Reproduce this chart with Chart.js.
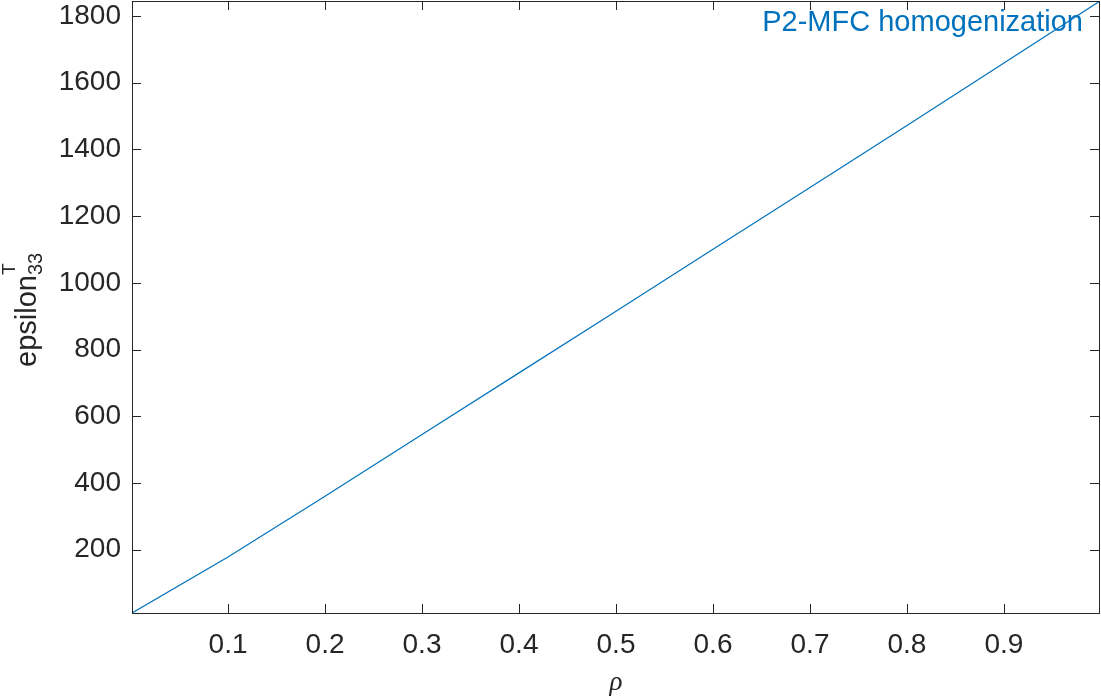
<!DOCTYPE html>
<html>
<head>
<meta charset="utf-8">
<script src="https://cdn.jsdelivr.net/npm/chart.js@4.4.1/dist/chart.umd.min.js"></script>
<style>
    html, body { margin: 0; padding: 0; background: #ffffff; }
    #grafico { display: block; }
</style>
</head>
<body>
<canvas id="grafico" width="1101" height="697"></canvas>
<script>
/* ================================
      DADOS
================================ */
const rho = [0.001, 0.1, 0.2, 0.3, 0.4, 0.5, 0.6, 0.7, 0.8, 0.9, 0.999];
const epsilon33 = [10, 178, 360, 545, 730, 915, 1101, 1286, 1472, 1659, 1845];
const xTicks = [0.1, 0.2, 0.3, 0.4, 0.5, 0.6, 0.7, 0.8, 0.9];
const yTicks = [200, 400, 600, 800, 1000, 1200, 1400, 1600, 1800];
const legendaTexto = "P2-MFC homogenization";
const tituloX = "\u03C1";
const tituloY = "epsilon";
const tituloYSup = "T";
const tituloYSub = "33";

const corEixo = "#262626";
const corLinha = "#0072BD";

/* ================================
      PLUGIN — CAIXA, TICKS, TEXTOS
================================ */
const estiloMatlab = {
    id: "estiloMatlab",
    afterDraw(chart) {
        const ctx = chart.ctx;
        const area = chart.chartArea;
        const sx = chart.scales.x;
        const sy = chart.scales.y;
        const tam = 9;

        ctx.save();
        ctx.strokeStyle = corEixo;
        ctx.lineWidth = 1;

        // caixa
        ctx.strokeRect(Math.round(area.left) + 0.5, Math.round(area.top) + 0.5,
            Math.round(area.right - area.left) - 1, Math.round(area.bottom - area.top));

        // ticks para dentro
        ctx.beginPath();
        xTicks.forEach(v => {
            const px = Math.round(sx.getPixelForValue(v)) + 0.5;
            ctx.moveTo(px, area.bottom);
            ctx.lineTo(px, area.bottom - tam);
            ctx.moveTo(px, area.top);
            ctx.lineTo(px, area.top + tam);
        });
        yTicks.forEach(v => {
            const py = Math.round(sy.getPixelForValue(v)) + 0.5;
            ctx.moveTo(area.left, py);
            ctx.lineTo(area.left + tam, py);
            ctx.moveTo(area.right - 1, py);
            ctx.lineTo(area.right - 1 - tam, py);
        });
        ctx.stroke();

        // legenda
        ctx.fillStyle = corLinha;
        ctx.font = '29px "Liberation Sans", Arial, sans-serif';
        ctx.textAlign = "right";
        ctx.textBaseline = "alphabetic";
        ctx.fillText(legendaTexto, 1083, 31);

        // titulo x
        ctx.fillStyle = corEixo;
        ctx.font = 'italic 27px "Liberation Serif", "DejaVu Serif", serif';
        ctx.textAlign = "center";
        ctx.fillText(tituloX, (area.left + area.right) / 2, 690);

        // titulo y (rotacionado, com sobrescrito e subscrito)
        ctx.translate(36, 367);
        ctx.rotate(-Math.PI / 2);
        ctx.textAlign = "left";
        ctx.font = '29px "Liberation Sans", Arial, sans-serif';
        ctx.fillText(tituloY, 0, 0);
        const larg = ctx.measureText(tituloY).width;
        ctx.font = '19px "Liberation Sans", Arial, sans-serif';
        ctx.fillText(tituloYSup, larg, -21);
        ctx.font = '20px "Liberation Sans", Arial, sans-serif';
        ctx.fillText(tituloYSub, larg, 6);

        ctx.restore();
    }
};

/* ================================
      GRÁFICO
================================ */
const ctx = document.getElementById("grafico");

new Chart(ctx, {
    type: "scatter",
    data: {
        datasets: [{
            label: legendaTexto,
            data: rho.map((r, i) => ({ x: r, y: epsilon33[i] })),
            showLine: true,
            borderColor: corLinha,
            borderWidth: 1.2,
            pointRadius: 0,
            tension: 0
        }]
    },
    options: {
        responsive: false,
        animation: false,
        layout: { padding: { top: 1, right: 1, left: 0, bottom: 0 } },
        plugins: {
            legend: { display: false },
            tooltip: { enabled: false }
        },
        scales: {
            x: {
                type: "linear",
                min: 0.001,
                max: 0.999,
                afterBuildTicks: s => { s.ticks = xTicks.map(v => ({ value: v })); },
                afterFit: s => {
                    s.height = 84;
                    s.paddingLeft = 0;
                    s.paddingRight = 0;
                },
                grid: { display: false, drawTicks: false },
                border: { display: false },
                ticks: {
                    color: corEixo,
                    font: { family: '"Liberation Sans", Arial, sans-serif', size: 28 },
                    padding: 15,
                    maxRotation: 0,
                    callback: v => String(v)
                }
            },
            y: {
                type: "linear",
                min: 10,
                max: 1845,
                afterBuildTicks: s => { s.ticks = yTicks.map(v => ({ value: v })); },
                afterFit: s => {
                    s.width = 132;
                    s.paddingTop = 0;
                    s.paddingBottom = 0;
                },
                grid: { display: false, drawTicks: false },
                border: { display: false },
                ticks: {
                    color: corEixo,
                    font: { family: '"Liberation Sans", Arial, sans-serif', size: 28 },
                    padding: 11,
                    callback: v => String(v)
                }
            }
        }
    },
    plugins: [estiloMatlab]
});
</script>
</body>
</html>
